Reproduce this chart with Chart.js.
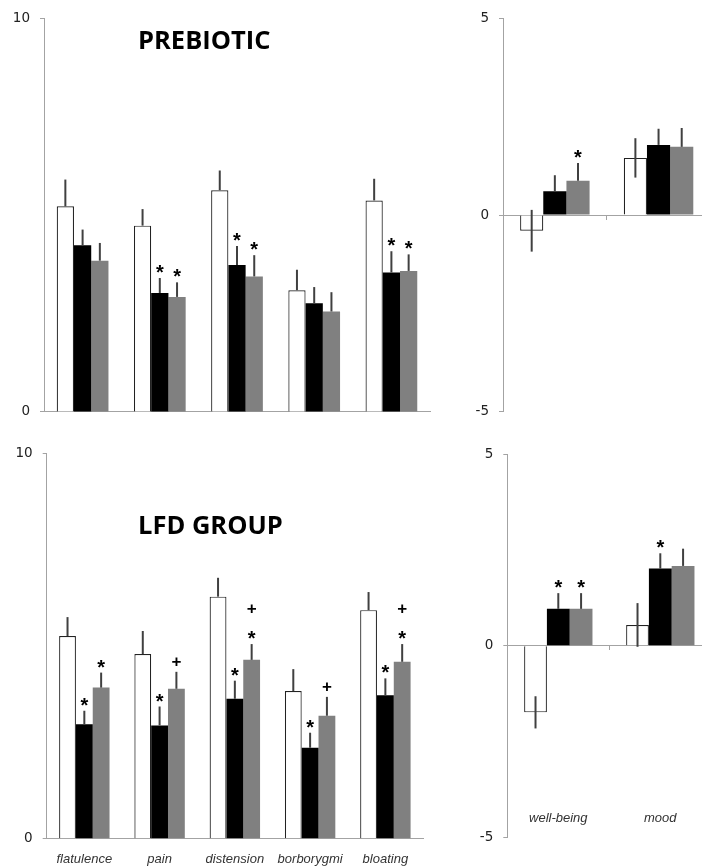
<!DOCTYPE html>
<html>
<head>
<meta charset="utf-8">
<script src="https://cdn.jsdelivr.net/npm/chart.js@4.4.1/dist/chart.umd.min.js"></script>
<style>
  html, body { margin: 0; padding: 0; background: #fff; width: 702px; height: 867px; overflow: hidden; }
  .panel { position: absolute; }
  .title { position: absolute; font-family: 'Open Sans', sans-serif; font-weight: 700; font-size: 25.5px; line-height: 1; color: #000; white-space: nowrap; }
</style>
</head>
<body>
<div class="panel" style="left:0;top:0"><canvas id="pre-sym" width="450" height="430"></canvas></div>
<div class="panel" style="left:450px;top:0"><canvas id="pre-mood" width="270" height="430"></canvas></div>
<div class="panel" style="left:0;top:430px"><canvas id="lfd-sym" width="450" height="437"></canvas></div>
<div class="panel" style="left:450px;top:430px"><canvas id="lfd-mood" width="270" height="437"></canvas></div>
<div class="title" style="left:138px;top:27px">PREBIOTIC</div>
<div class="title" style="left:138px;top:512px">LFD GROUP</div>

<script>
const symptoms = ['flatulence', 'pain', 'distension', 'borborygmi', 'bloating'];
const moodCats = ['well-being', 'mood'];

// prebiotic group, symptom scores (0-10)
const preSymWhite = [5.22, 4.73, 5.63, 3.09, 5.37];
const preSymWhiteErr = [0.68, 0.42, 0.50, 0.52, 0.55];
const preSymBlack = [4.23, 3.02, 3.73, 2.76, 3.54];
const preSymBlackErr = [0.40, 0.38, 0.48, 0.41, 0.54];
const preSymGray = [3.84, 2.92, 3.44, 2.55, 3.58];
const preSymGrayErr = [0.45, 0.37, 0.54, 0.49, 0.42];
const preSymBlackMarks = ['', '*', '*', '', '*'];
const preSymGrayMarks = ['', '*', '*', '', '*'];

// prebiotic group, well-being / mood change
const preMoodWhite = [-0.40, 1.45];
const preMoodWhiteErr = [0.53, 0.50];
const preMoodBlack = [0.60, 1.78];
const preMoodBlackErr = [0.41, 0.41];
const preMoodGray = [0.87, 1.73];
const preMoodGrayErr = [0.45, 0.48];
const preMoodBlackMarks = ['', ''];
const preMoodGrayMarks = ['*', ''];

// LFD group, symptom scores
const lfdSymWhite = [5.26, 4.79, 6.28, 3.83, 5.93];
const lfdSymWhiteErr = [0.49, 0.60, 0.49, 0.57, 0.47];
const lfdSymBlack = [2.97, 2.94, 3.63, 2.36, 3.72];
const lfdSymBlackErr = [0.35, 0.49, 0.47, 0.39, 0.44];
const lfdSymGray = [3.92, 3.89, 4.64, 3.19, 4.59];
const lfdSymGrayErr = [0.39, 0.44, 0.41, 0.49, 0.46];
const lfdSymBlackMarks = ['*', '*', '*', '*', '*'];
const lfdSymGrayMarks = ['*', '+', '*+', '+', '*+'];

// LFD group, well-being / mood change
const lfdMoodWhite = [-1.74, 0.54];
const lfdMoodWhiteErr = [0.42, 0.57];
const lfdMoodBlack = [0.96, 2.01];
const lfdMoodBlackErr = [0.41, 0.40];
const lfdMoodGray = [0.96, 2.08];
const lfdMoodGrayErr = [0.41, 0.45];
const lfdMoodBlackMarks = ['*', '*'];
const lfdMoodGrayMarks = ['*', ''];

const symTicks = [0, 10];
const moodTicks = [-5, 0, 5];

const axisGray = '#a3a3a3';
const tickFont = { family: "'DejaVu Sans', sans-serif", size: 13.5 };
const labelFont = { family: "'Liberation Sans', Arial, sans-serif", size: 13, style: 'italic' };

// error bars + significance marks, drawn on top of the bars
const errorBars = {
  id: 'errorBars',
  afterDatasetsDraw(chart) {
    const ctx = chart.ctx;
    const y = chart.scales.y;
    chart.data.datasets.forEach((ds, i) => {
      const meta = chart.getDatasetMeta(i);
      meta.data.forEach((bar, j) => {
        const v = ds.data[j], e = ds.errors[j];
        const top = y.getPixelForValue(v + e);
        const bottom = y.getPixelForValue(ds.twoSided ? v - e : v);
        ctx.save();
        ctx.strokeStyle = '#404040';
        ctx.lineWidth = 2;
        ctx.beginPath();
        ctx.moveTo(bar.x, top);
        ctx.lineTo(bar.x, bottom);
        ctx.stroke();
        const marks = ds.marks ? ds.marks[j] : '';
        let cy = top - 10;
        ctx.fillStyle = '#000';
        ctx.textAlign = 'center';
        ctx.textBaseline = 'alphabetic';
        for (const ch of marks) {
          if (ch === '*') {
            ctx.font = "bold 20px 'Liberation Sans', Arial, sans-serif";
            ctx.fillText(ch, bar.x, cy + 20 * 0.55);
          } else {
            ctx.font = "bold 17px 'Liberation Sans', Arial, sans-serif";
            ctx.fillText(ch, bar.x, cy + 17 * 0.33);
          }
          cy -= 26;
        }
        ctx.restore();
      });
    });
  }
};

function series(white, whiteErr, black, blackErr, gray, grayErr, blackMarks, grayMarks, twoSided) {
  return [
    { label: 'white', data: white, errors: whiteErr, twoSided, backgroundColor: '#fff', borderColor: '#222', borderWidth: 1.2 },
    { label: 'black', data: black, errors: blackErr, marks: blackMarks, backgroundColor: '#000', borderWidth: 0 },
    { label: 'gray', data: gray, errors: grayErr, marks: grayMarks, backgroundColor: '#808080', borderWidth: 0 }
  ];
}

function buildChart(id, cats, datasets, cfg) {
  const scales = {
    x: {
      type: 'category',
      offset: true,
      position: cfg.zeroAxis ? { y: 0 } : 'bottom',
      border: { color: axisGray, width: 1 },
      grid: { display: !!cfg.zeroAxis, drawOnChartArea: false, offset: true, tickLength: 4, color: axisGray },
      ticks: { display: !!cfg.showLabels, font: labelFont, color: '#333', padding: 9, maxRotation: 0, autoSkip: false },
      afterFit: s => { if (cfg.xHeight != null) s.height = cfg.xHeight; }
    },
    y: {
      min: cfg.ticks[0],
      max: cfg.ticks[cfg.ticks.length - 1],
      border: { color: axisGray, width: 1 },
      grid: { drawOnChartArea: false, tickLength: 4, color: axisGray },
      afterBuildTicks: s => { s.ticks = cfg.ticks.map(v => ({ value: v })); },
      ticks: { font: tickFont, color: '#222', padding: 10 },
      afterFit: s => { s.width = cfg.yWidth; }
    }
  };
  if (cfg.labelAxisAt != null) {
    scales.x2 = {
      type: 'category',
      axis: 'x',
      offset: true,
      position: { y: cfg.labelAxisAt },
      border: { display: false },
      grid: { display: false },
      ticks: { font: labelFont, color: '#333', padding: 9, maxRotation: 0 }
    };
  }
  return new Chart(document.getElementById(id), {
    type: 'bar',
    data: { labels: cats, datasets },
    options: {
      responsive: false,
      animation: false,
      devicePixelRatio: 1,
      categoryPercentage: 0.67,
      barPercentage: 1,
      layout: { padding: cfg.padding },
      plugins: { legend: { display: false }, tooltip: { enabled: false } },
      scales
    },
    plugins: [errorBars]
  });
}

buildChart('pre-sym', symptoms,
  series(preSymWhite, preSymWhiteErr, preSymBlack, preSymBlackErr, preSymGray, preSymGrayErr, preSymBlackMarks, preSymGrayMarks, false),
  { ticks: symTicks, yWidth: 44, xHeight: 14, padding: { top: 16, right: 20, left: 0, bottom: 0 } });

buildChart('pre-mood', moodCats,
  series(preMoodWhite, preMoodWhiteErr, preMoodBlack, preMoodBlackErr, preMoodGray, preMoodGrayErr, preMoodBlackMarks, preMoodGrayMarks, true),
  { ticks: moodTicks, yWidth: 53, zeroAxis: true, padding: { top: 15, right: 9.6, left: 0, bottom: 13.3 } });

buildChart('lfd-sym', symptoms,
  series(lfdSymWhite, lfdSymWhiteErr, lfdSymBlack, lfdSymBlackErr, lfdSymGray, lfdSymGrayErr, lfdSymBlackMarks, lfdSymGrayMarks, false),
  { ticks: symTicks, yWidth: 46.7, xHeight: 28.3, showLabels: true, padding: { top: 23.3, right: 27, left: 0, bottom: 0 } });

buildChart('lfd-mood', moodCats,
  series(lfdMoodWhite, lfdMoodWhiteErr, lfdMoodBlack, lfdMoodBlackErr, lfdMoodGray, lfdMoodGrayErr, lfdMoodBlackMarks, lfdMoodGrayMarks, true),
  { ticks: moodTicks, yWidth: 57.3, zeroAxis: true, labelAxisAt: -3.85, padding: { top: 24, right: 8.7, left: 0, bottom: 29.7 } });
</script>
</body>
</html>
